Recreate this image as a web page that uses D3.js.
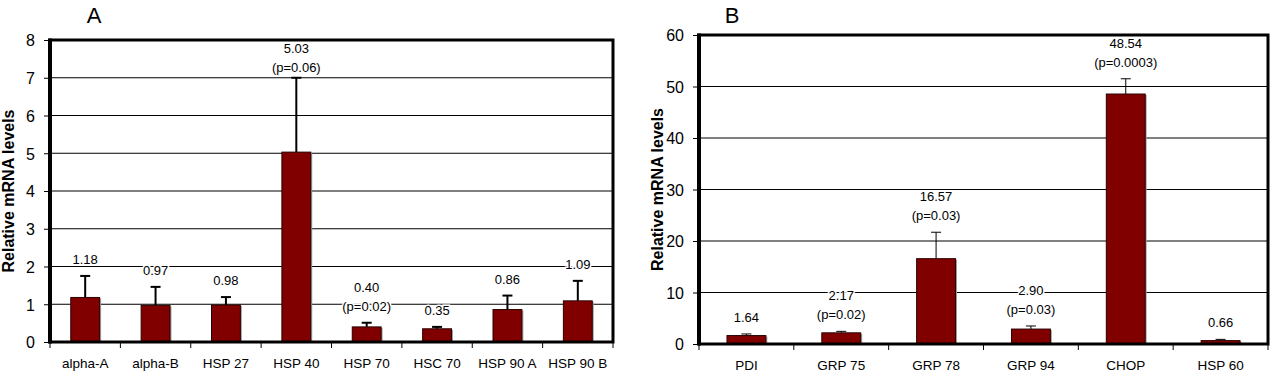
<!DOCTYPE html>
<html>
<head>
<meta charset="utf-8">
<script src="https://cdn.jsdelivr.net/npm/d3@7"></script>
<style>
  body { margin: 0; background: #fff; }
  text { font-family: Arial, "Liberation Sans", sans-serif; fill: #000; }
</style>
</head>
<body>
<svg id="chart"></svg>
<script>
const width = 1274;
const height = 374;

// Panel A data
const genesA = ["alpha-A", "alpha-B", "HSP 27", "HSP 40", "HSP 70", "HSC 70", "HSP 90 A", "HSP 90 B"];
const valuesA = [1.18, 0.97, 0.98, 5.03, 0.40, 0.35, 0.86, 1.09];
const errTopA = [1.75, 1.46, 1.19, 7.0, 0.51, 0.40, 1.23, 1.62];
const pvalsA = [null, null, null, "0.06", "0.02", null, null, null];
const ticksA = [0, 1, 2, 3, 4, 5, 6, 7, 8];

// Panel B data
const genesB = ["PDI", "GRP 75", "GRP 78", "GRP 94", "CHOP", "HSP 60"];
const valuesB = [1.64, 2.17, 16.57, 2.90, 48.54, 0.66];
const errTopB = [1.95, 2.46, 21.7, 3.5, 51.5, 0.9];
const pvalsB = [null, "0.02", "0.03", "0.03", "0.0003", null];
const ticksB = [0, 10, 20, 30, 40, 50, 60];

const svg = d3.select("#chart")
    .attr("width", width)
    .attr("height", height);

function drawPanel(opts) {
  const { title, genes, values, errTop, pvals, ticks, left, right, top, bottom, errWidth, titleX } = opts;

  const g = svg.append("g");

  const y = d3.scaleLinear()
      .domain([0, d3.max(ticks)])
      .range([bottom, top]);

  const x = d3.scaleBand()
      .domain(genes)
      .range([left, right])
      .paddingInner(0.59)
      .paddingOuter(0.295);

  const step = (right - left) / genes.length;
  const cx = d => x(d) + x.bandwidth() / 2;

  // gridlines
  g.selectAll(".grid")
    .data(ticks.slice(1, -1))
    .enter().append("line")
      .attr("x1", left).attr("x2", right)
      .attr("y1", d => y(d)).attr("y2", d => y(d))
      .attr("stroke", "#000")
      .attr("stroke-width", 1);

  // y axis ticks and labels
  const yAxis = d3.axisLeft(y).tickValues(ticks).tickSize(6).tickPadding(9);
  const ya = g.append("g")
      .attr("transform", `translate(${left},0)`)
      .call(yAxis);
  ya.select(".domain").remove();
  ya.selectAll("line").attr("stroke", "#000");
  ya.selectAll("text").style("font-size", "16px").attr("dy", "0.36em");

  // x tick marks at category boundaries
  g.selectAll(".xtick")
    .data(d3.range(genes.length + 1))
    .enter().append("line")
      .attr("x1", i => left + i * step).attr("x2", i => left + i * step)
      .attr("y1", bottom).attr("y2", bottom + 6)
      .attr("stroke", "#000");

  // x labels
  g.selectAll(".xlabel")
    .data(genes)
    .enter().append("text")
      .attr("x", cx)
      .attr("y", bottom + 26)
      .attr("text-anchor", "middle")
      .style("font-size", "13.5px")
      .text(d => d);

  // error bars (upper only)
  const eb = g.selectAll(".err")
    .data(genes)
    .enter().append("g");
  eb.append("line")
      .attr("x1", cx).attr("x2", cx)
      .attr("y1", (d, i) => y(values[i]))
      .attr("y2", (d, i) => y(errTop[i]))
      .attr("stroke", "#000")
      .attr("stroke-width", errWidth);
  eb.append("line")
      .attr("x1", d => cx(d) - 5)
      .attr("x2", d => cx(d) + 5)
      .attr("y1", (d, i) => y(errTop[i]))
      .attr("y2", (d, i) => y(errTop[i]))
      .attr("stroke", "#000")
      .attr("stroke-width", errWidth);

  // bar shadows
  g.selectAll(".shadow")
    .data(genes)
    .enter().append("rect")
      .attr("x", d => x(d) + 1.5)
      .attr("y", (d, i) => y(values[i]) + 1)
      .attr("width", x.bandwidth())
      .attr("height", (d, i) => bottom - y(values[i]) - 1)
      .attr("fill", "#a0a0a0");

  // bars
  g.selectAll(".bar")
    .data(genes)
    .enter().append("rect")
      .attr("x", d => x(d))
      .attr("y", (d, i) => y(values[i]))
      .attr("width", x.bandwidth())
      .attr("height", (d, i) => bottom - y(values[i]))
      .attr("fill", "#800000")
      .attr("stroke", "#2a0000")
      .attr("stroke-width", 1);

  // value labels, kept below the frame
  const lineH = 19;
  const firstBase = i => Math.max(top + 13, y(errTop[i]) - 12 - (pvals[i] ? lineH : 0));
  const lab = g.selectAll(".vlabel")
    .data(genes)
    .enter().append("text")
      .attr("text-anchor", "middle")
      .style("font-size", "13px")
      .attr("stroke", "#fff")
      .attr("stroke-width", 3)
      .attr("paint-order", "stroke")
      .attr("x", cx)
      .attr("y", (d, i) => firstBase(i));
  lab.append("tspan")
      .text((d, i) => values[i].toFixed(2));
  lab.filter((d, i) => pvals[i])
    .append("tspan")
      .attr("x", cx)
      .attr("dy", lineH)
      .text(d => "(p=" + pvals[genes.indexOf(d)] + ")");

  // plot frame
  g.append("rect")
      .attr("x", left).attr("y", top)
      .attr("width", right - left).attr("height", bottom - top)
      .attr("fill", "none")
      .attr("stroke", "#000")
      .attr("stroke-width", 3);
  g.append("line")
      .attr("x1", left).attr("x2", left)
      .attr("y1", top - 1.5).attr("y2", bottom + 1.5)
      .attr("stroke", "#000")
      .attr("stroke-width", 4);

  // y title
  g.append("text")
      .attr("transform", `translate(${left - 36},${(top + bottom) / 2}) rotate(-90)`)
      .attr("text-anchor", "middle")
      .style("font-size", "16px")
      .style("font-weight", "bold")
      .text("Relative mRNA levels");

  // panel letter
  g.append("text")
      .attr("x", titleX)
      .attr("y", 23)
      .attr("text-anchor", "middle")
      .style("font-size", "22px")
      .text(title);
}

drawPanel({
  title: "A", genes: genesA, values: valuesA, errTop: errTopA, pvals: pvalsA, ticks: ticksA,
  left: 50, right: 613, top: 40, bottom: 342, errWidth: 2, titleX: 94
});

drawPanel({
  title: "B", genes: genesB, values: valuesB, errTop: errTopB, pvals: pvalsB, ticks: ticksB,
  left: 699, right: 1268, top: 35, bottom: 344, errWidth: 1, titleX: 732
});
</script>
</body>
</html>
